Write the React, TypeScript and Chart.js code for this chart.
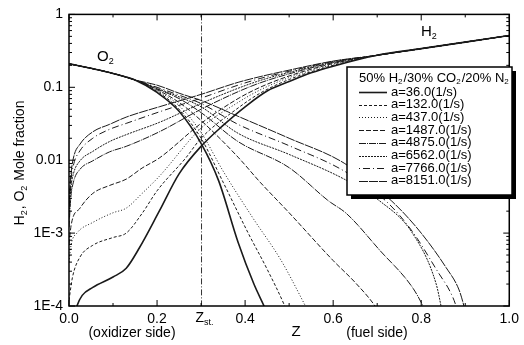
import React, { useEffect, useRef } from 'react';
import { Chart, registerables } from 'chart.js';
Chart.register(...registerables);

const FONT = '"Liberation Sans", Arial, sans-serif';

// ---- data ----
const STRAIN_RATES = ['36.0', '132.0', '437.0', '1487.0', '4875.0', '6562.0', '7766.0', '8151.0'];
const X_TICKS = [0, 0.2, 0.4, 0.6, 0.8, 1.0];
const Y_TICKS = [1e-4, 1e-3, 1e-2, 1e-1, 1];
const Y_TICK_LABELS = ['1E-4', '1E-3', '0.01', '0.1', '1'];
const Z_ST = 0.301;

// O2: common oxidizer-side start
const O2_OX_HEAD = [[0, 0.21], [0.05, 0.182], [0.1, 0.155], [0.15, 0.126]];
const O2_36 = [[0.2, 0.085], [0.25, 0.047], [0.3, 0.017], [0.34, 0.0052], [0.384, 0.00075], [0.42, 0.0002], [0.443, 0.0001], [0.45, 0.00008]];
const O2_132 = [[0.2, 0.088], [0.25, 0.05], [0.3, 0.02], [0.35, 0.005], [0.407, 0.001], [0.45, 0.00032], [0.49, 0.0001], [0.5, 0.00007]];
const O2_437 = [[0.2, 0.09], [0.25, 0.056], [0.3, 0.024], [0.35, 0.0071], [0.418, 0.0016], [0.481, 0.00043], [0.537, 0.0001], [0.55, 0.00007]];
const O2_1487 = [[0.2, 0.093], [0.25, 0.062], [0.3, 0.035], [0.384, 0.011], [0.434, 0.005], [0.5, 0.0019], [0.6, 0.00042], [0.65, 0.00021], [0.695, 0.0001], [0.71, 0.00007]];
const O2_4875 = [[0.2, 0.095], [0.25, 0.07], [0.3, 0.045], [0.384, 0.018], [0.5, 0.0079], [0.59, 0.00275], [0.63, 0.00186], [0.706, 0.00058], [0.78, 0.00018], [0.804, 0.0001], [0.815, 0.00007]];
const O2_6562 = [[0.2, 0.097], [0.25, 0.074], [0.3, 0.054], [0.384, 0.0234], [0.5, 0.012], [0.625, 0.0055], [0.706, 0.00275], [0.78, 0.001], [0.834, 0.0002], [0.845, 0.0001], [0.85, 0.00007]];
const O2_7766 = [[0.2, 0.1], [0.25, 0.078], [0.3, 0.06], [0.384, 0.031], [0.5, 0.0158], [0.625, 0.0071], [0.72, 0.00275], [0.78, 0.00105], [0.84, 0.00028], [0.865, 0.00016], [0.879, 0.0001], [0.885, 0.00007]];
const O2_8151 = [[0.2, 0.107], [0.25, 0.083], [0.3, 0.066], [0.384, 0.04], [0.5, 0.02], [0.625, 0.0091], [0.733, 0.00275], [0.796, 0.00107], [0.856, 0.00034], [0.886, 0.000166], [0.897, 0.0001], [0.903, 0.00007]];

// H2: common fuel-side end
const H2_FUEL_TAIL = [[0.7, 0.275], [0.8, 0.339], [0.9, 0.417], [1.0, 0.513]];
const H2_36 = [[0.014, 0.00008], [0.018, 0.0001], [0.03, 0.00014], [0.054, 0.00018], [0.1, 0.00025], [0.13, 0.00033], [0.16, 0.00063], [0.205, 0.002], [0.25, 0.0065], [0.3, 0.0155], [0.35, 0.03], [0.4, 0.054], [0.45, 0.089], [0.5, 0.12], [0.55, 0.158], [0.6, 0.195]];
const H2_132 = [[0, 0.00012], [0.008, 0.00025], [0.025, 0.00047], [0.054, 0.00068], [0.1, 0.00087], [0.13, 0.001], [0.166, 0.00186], [0.2, 0.0038], [0.265, 0.0107], [0.3, 0.02], [0.384, 0.052], [0.434, 0.083], [0.5, 0.128], [0.6, 0.2]];
const H2_437 = [[0, 0.0004], [0.005, 0.0007], [0.018, 0.001], [0.054, 0.0014], [0.1, 0.0019], [0.13, 0.0022], [0.166, 0.0035], [0.205, 0.006], [0.3, 0.0275], [0.384, 0.062], [0.434, 0.092], [0.5, 0.136], [0.6, 0.206]];
const H2_1487 = [[0, 0.0007], [0.005, 0.0013], [0.025, 0.0022], [0.054, 0.0035], [0.092, 0.0045], [0.13, 0.0055], [0.166, 0.0078], [0.205, 0.0107], [0.3, 0.032], [0.384, 0.07], [0.434, 0.1], [0.5, 0.143], [0.6, 0.212]];
const H2_4875 = [[0, 0.0012], [0.004, 0.003], [0.01, 0.005], [0.025, 0.0075], [0.054, 0.0098], [0.092, 0.013], [0.13, 0.0155], [0.205, 0.0245], [0.3, 0.05], [0.384, 0.087], [0.434, 0.115], [0.5, 0.153], [0.6, 0.218]];
const H2_6562 = [[0, 0.0016], [0.004, 0.004], [0.01, 0.0065], [0.025, 0.0098], [0.054, 0.0132], [0.092, 0.018], [0.13, 0.0224], [0.205, 0.033], [0.3, 0.06], [0.384, 0.097], [0.434, 0.124], [0.5, 0.16], [0.6, 0.222]];
const H2_7766 = [[0, 0.002], [0.004, 0.005], [0.01, 0.0085], [0.025, 0.0135], [0.054, 0.02], [0.092, 0.0265], [0.13, 0.032], [0.205, 0.046], [0.3, 0.071], [0.384, 0.107], [0.434, 0.132], [0.5, 0.166], [0.6, 0.226]];
const H2_8151 = [[0, 0.0025], [0.004, 0.006], [0.01, 0.0107], [0.025, 0.0166], [0.054, 0.0245], [0.092, 0.031], [0.13, 0.039], [0.205, 0.054], [0.3, 0.08], [0.384, 0.117], [0.434, 0.14], [0.5, 0.172], [0.6, 0.229]];

const O2_SERIES = [O2_36, O2_132, O2_437, O2_1487, O2_4875, O2_6562, O2_7766, O2_8151];
const H2_SERIES = [H2_36, H2_132, H2_437, H2_1487, H2_4875, H2_6562, H2_7766, H2_8151];

// ---- styles ----
const LINE_DASHES: number[][] = [[], [3, 2], [1, 2], [5, 2], [7, 1, 1, 1], [2, 1], [1, 3, 7, 3], [9, 1]];
const LINE_WIDTHS = [1.6, 1, 1, 1, 1, 1, 1, 1];
const LINE_COLOR = '#1a1a1a';

type Part = [string, boolean];
function drawRich(ctx: CanvasRenderingContext2D, parts: Part[], x: number, y: number, size: number) {
  let cx = x;
  for (const [t, sub] of parts) {
    const s = sub ? Math.round(size * 0.62) : size;
    ctx.font = `${s}px ${FONT}`;
    ctx.fillText(t, cx, sub ? y + size * 0.32 : y);
    cx += ctx.measureText(t).width + (sub ? 1 : 0);
  }
  return cx - x;
}
function richWidth(ctx: CanvasRenderingContext2D, parts: Part[], size: number) {
  let w = 0;
  for (const [t, sub] of parts) {
    const s = sub ? Math.round(size * 0.62) : size;
    ctx.font = `${s}px ${FONT}`;
    w += ctx.measureText(t).width + (sub ? 1 : 0);
  }
  return w;
}

const decor = {
  id: 'decor',
  afterDraw(chart: any) {
    const ctx: CanvasRenderingContext2D = chart.ctx;
    const xs = chart.scales.x;
    const ys = chart.scales.y;
    const { left, right, top, bottom } = chart.chartArea;
    ctx.save();
    // Z_st line
    const zx = xs.getPixelForValue(Z_ST);
    ctx.strokeStyle = '#333';
    ctx.lineWidth = 1;
    ctx.setLineDash([6, 2, 1, 2]);
    ctx.beginPath();
    ctx.moveTo(zx, top);
    ctx.lineTo(zx, bottom);
    ctx.stroke();
    ctx.setLineDash([]);

    // frame
    ctx.strokeStyle = '#000';
    ctx.lineWidth = 1.5;
    ctx.strokeRect(left, top, right - left, bottom - top);

    // inward ticks
    ctx.lineWidth = 1;
    ctx.beginPath();
    for (let i = 0; i <= 10; i++) {
      const px = xs.getPixelForValue(i / 10);
      const len = i % 2 === 0 ? 6 : 3;
      ctx.moveTo(px, bottom); ctx.lineTo(px, bottom - len);
      ctx.moveTo(px, top); ctx.lineTo(px, top + len);
    }
    for (let e = -4; e <= 0; e++) {
      for (let m = 1; m <= 9; m++) {
        const v = m * Math.pow(10, e);
        if (v > 1.0001) break;
        const py = ys.getPixelForValue(v);
        const len = m === 1 ? 6 : 3;
        ctx.moveTo(left, py); ctx.lineTo(left + len, py);
        ctx.moveTo(right, py); ctx.lineTo(right - len, py);
      }
    }
    ctx.stroke();

    ctx.fillStyle = '#000';
    ctx.textBaseline = 'middle';
    ctx.textAlign = 'left';

    // curve labels
    drawRich(ctx, [['O', false], ['2', true]], 97, 57, 15);
    drawRich(ctx, [['H', false], ['2', true]], 421, 32, 15);

    // x axis extra labels
    drawRich(ctx, [['Z', false], ['st.', true]], zx - 6, 318, 14);
    ctx.font = `14px ${FONT}`;
    ctx.textAlign = 'center';
    ctx.fillText('(oxidizer side)', 132, 333);
    ctx.fillText('(fuel side)', 377, 333);
    ctx.font = `15px ${FONT}`;
    ctx.fillText('Z', 296, 332);

    // y title
    ctx.save();
    ctx.translate(20, 163);
    ctx.rotate(-Math.PI / 2);
    ctx.textAlign = 'left';
    const yt: Part[] = [['H', false], ['2', true], [', O', false], ['2', true], [' Mole fraction', false]];
    const w = richWidth(ctx, yt, 14);
    drawRich(ctx, yt, -w / 2, 0, 14);
    ctx.restore();

    // legend
    const lx = 347, ly = 67, lw = 165, lh = 128;
    ctx.fillStyle = '#000';
    ctx.fillRect(lx + 4, ly + 4, lw, lh);
    ctx.fillStyle = '#fff';
    ctx.fillRect(lx, ly, lw, lh);
    ctx.strokeStyle = '#000';
    ctx.lineWidth = 1.5;
    ctx.strokeRect(lx, ly, lw, lh);
    ctx.fillStyle = '#000';
    ctx.textAlign = 'left';
    drawRich(ctx, [['50% H', false], ['2', true], ['/30% CO', false], ['2', true], ['/20% N', false], ['2', true]], 359, 78, 13);
    ctx.font = `13px ${FONT}`;
    STRAIN_RATES.forEach((r, i) => {
      const y = 92 + i * 12.7;
      ctx.strokeStyle = LINE_COLOR;
      ctx.lineWidth = LINE_WIDTHS[i];
      ctx.setLineDash(LINE_DASHES[i]);
      ctx.beginPath();
      ctx.moveTo(359, Math.round(y) + 0.5);
      ctx.lineTo(387, Math.round(y) + 0.5);
      ctx.stroke();
      ctx.setLineDash([]);
      ctx.fillText(`a=${r}(1/s)`, 391, y);
    });
    ctx.restore();
  },
};

export default function App() {
  const ref = useRef<HTMLCanvasElement>(null);
  useEffect(() => {
    const datasets: any[] = [];
    STRAIN_RATES.forEach((r, i) => {
      const o2 = [...O2_OX_HEAD, ...O2_SERIES[i]];
      const h2 = [...H2_SERIES[i], ...H2_FUEL_TAIL];
      [o2, h2].forEach((s, k) => {
        datasets.push({
          label: `${k === 0 ? 'O2' : 'H2'} a=${r}`,
          data: s.map(([x, y]) => ({ x, y })),
          borderColor: LINE_COLOR,
          borderWidth: LINE_WIDTHS[i],
          borderDash: LINE_DASHES[i],
          pointRadius: 0,
          fill: false,
          cubicInterpolationMode: 'monotone',
        });
      });
    });
    const chart = new Chart(ref.current!, {
      type: 'line',
      data: { datasets },
      options: {
        animation: false,
        responsive: false,
        devicePixelRatio: 1,
        layout: { padding: { left: 0, top: 12, right: 11, bottom: 0 } },
        plugins: { legend: { display: false }, tooltip: { enabled: false } },
        scales: {
          x: {
            type: 'linear',
            min: 0,
            max: 1,
            grid: { display: false, drawTicks: false },
            border: { display: false },
            afterBuildTicks: (s: any) => { s.ticks = X_TICKS.map((v) => ({ value: v })); },
            afterFit: (s: any) => { s.height = 39; },
            ticks: {
              padding: 5,
              color: '#000',
              font: { family: FONT, size: 14 },
              maxRotation: 0,
              callback: (v: any) => Number(v).toFixed(1),
            },
          },
          y: {
            type: 'logarithmic',
            min: 1e-4,
            max: 1,
            grid: { display: false, drawTicks: false },
            border: { display: false },
            afterBuildTicks: (s: any) => { s.ticks = Y_TICKS.map((v) => ({ value: v })); },
            afterFit: (s: any) => { s.width = 69; },
            ticks: {
              padding: 6,
              color: '#000',
              font: { family: FONT, size: 14 },
              callback: (v: any) => {
                const idx = Y_TICKS.findIndex((t) => Math.abs(Math.log10(t) - Math.log10(Number(v))) < 1e-6);
                return idx >= 0 ? Y_TICK_LABELS[idx] : '';
              },
            },
          },
        },
      },
      plugins: [decor],
    } as any);
    return () => chart.destroy();
  }, []);
  return (
    <div style={{ position: 'absolute', left: 0, top: 0, width: 524, height: 345, background: '#fff' }}>
      <canvas ref={ref} width={524} height={345} style={{ display: 'block' }} />
    </div>
  );
}
